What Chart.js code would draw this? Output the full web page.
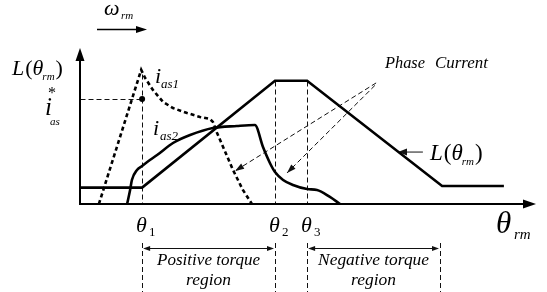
<!DOCTYPE html>
<html><head><meta charset="utf-8">
<script src="https://cdn.jsdelivr.net/npm/chart.js@4/dist/chart.umd.min.js"></script>
<style>html,body{margin:0;padding:0;background:#fff;}#wrap{width:547px;height:292px;}</style>
</head><body><div id="wrap"><canvas id="c" width="547" height="292"></canvas></div>
<script>
// ---- data (rotor angle units on x, per-unit magnitude on y) ----
const thetaMarks = [20.7, 65, 75.7];          // θ1, θ2, θ3
const thetaSubs = ['1', '2', '3'];
const negRegionEnd = 120;
const inductanceX = [0, 20.7, 65, 75.7, 120.7, 141.3];
const inductanceY = [10.5, 10.5, 79, 79, 11.5, 11.5];
const ias1X = [6.3, 20.4, 21.7, 24.3, 27.7, 31, 35.7, 40, 43.3, 44.3, 45.7, 51, 54.3, 57.3];
const ias1Y = [0, 86, 80.8, 73.1, 65.4, 61.5, 58.3, 55.8, 54.5, 52.6, 45.5, 21.8, 9, 0];
const ias2X = [15.7, 16.7, 17.3, 19, 20.7, 23.3, 25.7, 31, 36.7, 44.3, 52.3, 58.3, 61, 63.3, 65, 67.7, 71, 75.7, 79, 83.3, 86.7];
const ias2Y = [0, 9, 15.4, 21.8, 24.4, 28.2, 31.4, 39.1, 44.2, 48.7, 50, 50.6, 36.5, 26.3, 20.5, 15.4, 12.2, 9.6, 9, 4.5, 0];
const iasRef = 67.3;
const xMax = 152, yMax = 100;

const pts = (xs, ys) => xs.map((v, i) => ({x: v, y: ys[i]}));
const SERIF = '"Liberation Serif", "Times New Roman", serif';

function seg(ctx, x1, y1, x2, y2) { ctx.beginPath(); ctx.moveTo(x1, y1); ctx.lineTo(x2, y2); ctx.stroke(); }
function head(ctx, tx, ty, fx, fy, len, half) {
  const a = Math.atan2(ty - fy, tx - fx);
  ctx.save(); ctx.setLineDash([]);
  ctx.beginPath();
  ctx.moveTo(tx, ty);
  ctx.lineTo(tx - len * Math.cos(a) + half * Math.sin(a), ty - len * Math.sin(a) - half * Math.cos(a));
  ctx.lineTo(tx - len * Math.cos(a) - half * Math.sin(a), ty - len * Math.sin(a) + half * Math.cos(a));
  ctx.closePath(); ctx.fill(); ctx.restore();
}
function txt(ctx, s, x, y, font, align) {
  ctx.font = font; ctx.textAlign = align || 'left'; ctx.fillText(s, x, y);
  return ctx.measureText(s).width;
}
function fitted(ctx, s, x, y, target, style, align) {
  ctx.font = style + ' 20px ' + SERIF;
  const w = ctx.measureText(s).width;
  const size = 20 * target / w;
  return txt(ctx, s, x, y, style + ' ' + size.toFixed(2) + 'px ' + SERIF, align);
}
function lTheta(ctx, x, y, size) {
  let cx = x;
  cx += txt(ctx, 'L', cx, y, 'italic ' + size + 'px ' + SERIF) + 1;
  cx += txt(ctx, '(', cx, y, size + 'px ' + SERIF);
  cx += txt(ctx, 'θ', cx, y, 'italic ' + size + 'px ' + SERIF) - 1;
  cx += txt(ctx, 'rm', cx, y + size * 0.22, 'italic ' + Math.round(size * 0.48) + 'px ' + SERIF) + 1;
  txt(ctx, ')', cx, y, size + 'px ' + SERIF);
}

const overlay = {
  id: 'overlay',
  beforeDraw(chart) {
    const c = chart.ctx; c.save(); c.fillStyle = '#fff'; c.fillRect(0, 0, chart.width, chart.height); c.restore();
  },
  beforeDatasetsDraw(chart) {
    const {ctx, scales: {x, y}} = chart;
    const X = v => Math.round(x.getPixelForValue(v)) + 0.5, Y = v => Math.round(y.getPixelForValue(v)) + 0.5;
    ctx.save();
    ctx.strokeStyle = '#111'; ctx.fillStyle = '#111'; ctx.lineWidth = 1; ctx.setLineDash([5, 3]);
    const peak1 = Math.max(...ias1Y), peakL = Math.max(...inductanceY);
    seg(ctx, X(thetaMarks[0]), Y(peak1) + 4, X(thetaMarks[0]), Y(0));
    seg(ctx, X(thetaMarks[1]), Y(peakL), X(thetaMarks[1]), Y(0));
    seg(ctx, X(thetaMarks[2]), Y(peakL), X(thetaMarks[2]), Y(0));
    seg(ctx, X(0), Y(iasRef), X(thetaMarks[0]), Y(iasRef));
    // phase current leaders
    const ph = [[98.7, 77.6, 51.7, 21.2], [98.3, 76.0, 69, 19.9]];
    ph.forEach(p => {
      const x1 = x.getPixelForValue(p[0]), y1 = y.getPixelForValue(p[1]);
      const x2 = x.getPixelForValue(p[2]), y2 = y.getPixelForValue(p[3]);
      seg(ctx, x1, y1, x2, y2);
      head(ctx, x2, y2, x1, y1, 9, 3);
    });
    // L label leader
    ctx.setLineDash([]);
    const lx1 = x.getPixelForValue(114.3), lx2 = x.getPixelForValue(106), ly = y.getPixelForValue(33.3);
    seg(ctx, lx1, ly, lx2 + 6, ly); head(ctx, lx2, ly, lx1, ly, 9, 3.5);
    // region brackets below axis
    ctx.setLineDash([5, 3]);
    const ax = y.getPixelForValue(0);
    const regs = [thetaMarks[0], thetaMarks[1], thetaMarks[2], negRegionEnd];
    regs.forEach(v => seg(ctx, X(v), ax + 39, X(v), chart.height));
    ctx.setLineDash([]);
    const ay = Math.round(ax + 44) + 0.5;
    [[thetaMarks[0], thetaMarks[1]], [thetaMarks[2], negRegionEnd]].forEach(r => {
      const a = x.getPixelForValue(r[0]) + 1, b = x.getPixelForValue(r[1]) - 1;
      seg(ctx, a + 4, ay, b - 4, ay);
      head(ctx, a, ay, a + 10, ay, 7, 2.5); head(ctx, b, ay, b - 10, ay, 7, 2.5);
    });
    ctx.restore();
  },
  afterDatasetsDraw(chart) {
    const {ctx, scales: {x, y}} = chart;
    ctx.save();
    ctx.strokeStyle = '#000'; ctx.fillStyle = '#000';
    const ox = x.getPixelForValue(0), oy = y.getPixelForValue(0);
    const xe = x.getPixelForValue(xMax), ye = y.getPixelForValue(yMax);
    ctx.lineWidth = 2;
    seg(ctx, ox, oy, xe - 8, oy); head(ctx, xe, oy, ox, oy, 13, 4.5);
    seg(ctx, ox, oy + 1, ox, ye + 8); head(ctx, ox, ye, ox, oy, 13, 4.5);
    // reference dot
    ctx.beginPath(); ctx.arc(x.getPixelForValue(thetaMarks[0]), y.getPixelForValue(iasRef), 3, 0, Math.PI * 2); ctx.fill();
    // omega arrow
    ctx.lineWidth = 1.6;
    seg(ctx, 97, 29.5, 138, 29.5); head(ctx, 147, 29.5, 97, 29.5, 11, 3.5);
    ctx.textBaseline = 'alphabetic';
    txt(ctx, 'ω', 104, 15, 'italic 22px ' + SERIF);
    txt(ctx, 'rm', 121, 19, 'italic 11px ' + SERIF);
    // L labels
    lTheta(ctx, 12, 75, 22);
    lTheta(ctx, 430, 160, 23);
    // i*as
    txt(ctx, 'i', 45, 115, 'italic 25px ' + SERIF);
    txt(ctx, '*', 48, 98, '16px ' + SERIF);
    txt(ctx, 'as', 50, 125, 'italic 11px ' + SERIF);
    // ias1, ias2
    txt(ctx, 'i', 155, 83, 'italic 22px ' + SERIF);
    txt(ctx, 'as1', 161, 88, 'italic 13px ' + SERIF);
    txt(ctx, 'i', 153, 135, 'italic 22px ' + SERIF);
    txt(ctx, 'as2', 160, 140, 'italic 13px ' + SERIF);
    // Phase Current
    fitted(ctx, 'Phase', 385, 68, 40, 'italic');
    fitted(ctx, 'Current', 435, 68, 53, 'italic');
    // theta labels
    thetaMarks.forEach((v, i) => {
      const px = x.getPixelForValue(v);
      txt(ctx, 'θ', px - 6, oy + 28, 'italic 22px ' + SERIF);
      txt(ctx, thetaSubs[i], px + 7, oy + 32, '13px ' + SERIF);
    });
    txt(ctx, 'θ', 496, oy + 29, 'italic 31px ' + SERIF);
    txt(ctx, 'rm', 514, oy + 35, 'italic 15px ' + SERIF);
    // region texts
    const c1 = (x.getPixelForValue(thetaMarks[0]) + x.getPixelForValue(thetaMarks[1])) / 2;
    const c2 = (x.getPixelForValue(thetaMarks[2]) + x.getPixelForValue(negRegionEnd)) / 2;
    fitted(ctx, 'Positive torque', c1, oy + 61, 103, 'italic', 'center');
    fitted(ctx, 'region', c1, oy + 81, 45, 'italic', 'center');
    fitted(ctx, 'Negative torque', c2, oy + 61, 111, 'italic', 'center');
    fitted(ctx, 'region', c2, oy + 81, 45, 'italic', 'center');
    ctx.restore();
  }
};

new Chart(document.getElementById('c'), {
  type: 'line',
  data: {
    datasets: [
      {label: 'L', data: pts(inductanceX, inductanceY), borderColor: '#000', borderWidth: 2.6, tension: 0, pointRadius: 0},
      {label: 'ias1', data: pts(ias1X, ias1Y), borderColor: '#000', borderWidth: 2.6, borderDash: [4, 3], tension: 0, pointRadius: 0},
      {label: 'ias2', data: pts(ias2X, ias2Y), borderColor: '#000', borderWidth: 2.6, cubicInterpolationMode: 'monotone', pointRadius: 0}
    ]
  },
  options: {
    responsive: false, animation: false, devicePixelRatio: 1,
    layout: {autoPadding: false, padding: {left: 80, right: 11, top: 48, bottom: 88}},
    scales: {
      x: {type: 'linear', min: 0, max: xMax, display: false},
      y: {type: 'linear', min: 0, max: yMax, display: false}
    },
    plugins: {legend: {display: false}, tooltip: {enabled: false}, title: {display: false}},
    elements: {line: {borderCapStyle: 'butt', borderJoinStyle: 'miter'}}
  },
  plugins: [overlay]
});
</script></body></html>
